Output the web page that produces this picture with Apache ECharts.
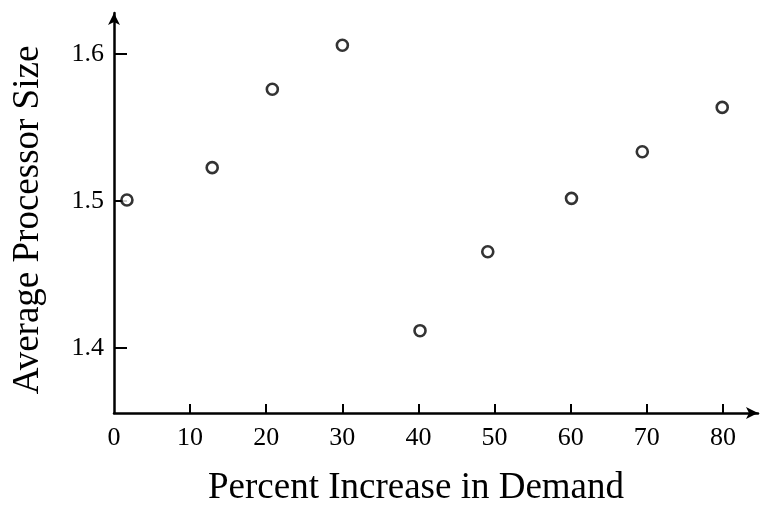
<!DOCTYPE html>
<html>
<head>
<meta charset="utf-8">
<script src="https://cdn.jsdelivr.net/npm/echarts@6/dist/echarts.min.js"></script>
<style>
html,body{margin:0;padding:0;background:#fff;}
#chart{width:761px;height:511px;}
</style>
</head>
<body>
<div id="chart"></div>
<script>
// Data
var percentIncrease = [1.7, 12.9, 20.8, 30.0, 40.2, 49.1, 60.1, 69.4, 79.9];
var avgProcessorSize = [1.5007, 1.5227, 1.576, 1.606, 1.4118, 1.4655, 1.5018, 1.5335, 1.5637];
var xTickValues = [10, 20, 30, 40, 50, 60, 70, 80];
var xLabelValues = [0, 10, 20, 30, 40, 50, 60, 70, 80];
var yTickValues = [1.4, 1.5, 1.6];
var xTitle = 'Percent Increase in Demand';
var yTitle = 'Average Processor Size';

var points = percentIncrease.map(function (x, i) { return [x, avgProcessorSize[i]]; });
var FONT = '"Liberation Serif", "Times New Roman", serif';

var chart = echarts.init(document.getElementById('chart'), null, {renderer: 'canvas'});
chart.setOption({
  animation: false,
  backgroundColor: '#ffffff',
  grid: {left: 114, right: 3, top: 13, bottom: 98, containLabel: false},
  xAxis: {
    type: 'value',
    min: 0,
    max: 84.6,
    axisLine: {show: true, lineStyle: {color: '#000', width: 2.5}, symbol: ['none', 'arrow'], symbolSize: [9, 12]},
    axisTick: {show: true, inside: true, length: 9, lineStyle: {color: '#000', width: 2}, customValues: xTickValues},
    axisLabel: {show: true, margin: 12, color: '#000', fontFamily: FONT, fontSize: 26, customValues: xLabelValues},
    splitLine: {show: false}
  },
  yAxis: {
    type: 'value',
    min: 1.3558,
    max: 1.6279,
    axisLine: {show: true, lineStyle: {color: '#000', width: 2.5}, symbol: ['none', 'arrow'], symbolSize: [9, 12]},
    axisTick: {show: true, inside: true, length: 13, lineStyle: {color: '#000', width: 2}, customValues: yTickValues},
    axisLabel: {show: true, margin: 10, color: '#000', fontFamily: FONT, fontSize: 26, customValues: yTickValues,
      formatter: function (v) { return v.toFixed(1); }},
    splitLine: {show: false}
  },
  series: [{
    type: 'scatter',
    data: points,
    symbol: 'circle',
    symbolSize: 11,
    itemStyle: {color: '#ffffff', borderColor: '#000', borderWidth: 2.6},
    z: 5
  }],
  graphic: [
    {type: 'text', x: 416, y: 488, style: {text: xTitle, fill: '#000', font: '37px ' + FONT, align: 'center', verticalAlign: 'middle'}},
    {type: 'text', x: 28, y: 220, rotation: Math.PI / 2, style: {text: yTitle, fill: '#000', font: '37px ' + FONT, align: 'center', verticalAlign: 'middle'}}
  ]
});
</script>
</body>
</html>
